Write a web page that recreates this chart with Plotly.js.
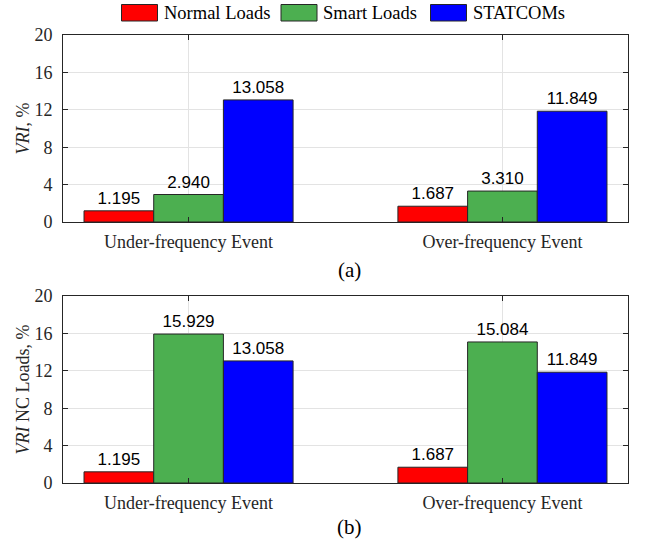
<!DOCTYPE html>
<html>
<head>
<meta charset="utf-8">
<script src="https://cdn.plot.ly/plotly-3.0.1.min.js"></script>
<style>
  html, body { margin: 0; padding: 0; background: #fff; }
  #chart { width: 646px; height: 546px; }
</style>
</head>
<body>
<div id="chart"></div>
<script>
// Event categories shared by both panels
const categories = ['Under-frequency Event', 'Over-frequency Event'];

// Series names and fill colours
const seriesNames = ['Normal Loads', 'Smart Loads', 'STATCOMs'];
const seriesColors = ['#FF0000', '#4CAF50', '#0000FF'];

// Panel (a): VRI, %
const vriNormal = [1.195, 1.687];
const vriSmart = [2.940, 3.310];
const vriStatcom = [13.058, 11.849];

// Panel (b): VRI of non-controllable loads, %
const vriNcNormal = [1.195, 1.687];
const vriNcSmart = [15.929, 15.084];
const vriNcStatcom = [13.058, 11.849];

// Shared y ticks
const yTicks = [0, 4, 8, 12, 16, 20];

const W = 646, H = 546;
const px = x => x / W;          // pixel -> paper x
const py = y => 1 - y / H;      // pixel -> paper y

const serif = 'Liberation Serif, Times New Roman, serif';
const sans = 'Liberation Sans, Arial, Helvetica, sans-serif';
const axisColor = '#262626';

function barTrace(values, i, xa, ya) {
  return {
    type: 'bar',
    name: seriesNames[i],
    x: categories,
    y: values,
    xaxis: xa,
    yaxis: ya,
    marker: { color: seriesColors[i], line: { color: axisColor, width: 1 } },
    text: values.map(v => v.toFixed(3)),
    textposition: 'outside',
    textfont: { family: sans, size: 17, color: '#000' },
    cliponaxis: false,
    showlegend: false,
    hoverinfo: 'x+y'
  };
}

const traces = [
  barTrace(vriNormal, 0, 'x', 'y'),
  barTrace(vriSmart, 1, 'x', 'y'),
  barTrace(vriStatcom, 2, 'x', 'y'),
  barTrace(vriNcNormal, 0, 'x2', 'y2'),
  barTrace(vriNcSmart, 1, 'x2', 'y2'),
  barTrace(vriNcStatcom, 2, 'x2', 'y2')
];

function xAxis(anchor) {
  return {
    domain: [px(63), px(628)],
    anchor: anchor,
    type: 'category',
    range: [-0.4, 1.4],
    showline: true, linecolor: axisColor, linewidth: 1, mirror: 'ticks',
    ticks: 'inside', ticklen: 5, tickcolor: axisColor,
    showgrid: true, gridcolor: '#E3E3E3', gridwidth: 1,
    tickfont: { family: serif, size: 18, color: axisColor },
    ticklabelstandoff: 3,
    zeroline: false,
    fixedrange: true
  };
}

function yAxis(domain, anchor, titleHtml) {
  return {
    domain: domain,
    anchor: anchor,
    range: [0, 20],
    tickvals: yTicks,
    showline: true, linecolor: axisColor, linewidth: 1, mirror: 'ticks',
    ticks: 'inside', ticklen: 5, tickcolor: axisColor,
    showgrid: true, gridcolor: '#E3E3E3', gridwidth: 1,
    tickfont: { family: serif, size: 18, color: axisColor },
    ticklabelstandoff: 6,
    zeroline: false,
    title: { text: titleHtml, font: { family: serif, size: 18, color: axisColor }, standoff: 0 },
    fixedrange: true
  };
}

// Legend row across the top, built from the series names and colours
const legendBoxes = [121.5, 281, 430.5];
const shapes = [];
const annotations = [];
seriesNames.forEach((name, i) => {
  const x0 = legendBoxes[i];
  shapes.push({
    type: 'rect', xref: 'paper', yref: 'paper',
    x0: px(x0), x1: px(x0 + 36), y0: py(21), y1: py(4.5),
    fillcolor: seriesColors[i], line: { color: axisColor, width: 1 }
  });
  annotations.push({
    xref: 'paper', yref: 'paper', x: px(x0 + 40), y: py(13),
    xanchor: 'left', yanchor: 'middle', showarrow: false,
    text: name, font: { family: serif, size: 18.5, color: '#000' }
  });
});

// Panel captions
annotations.push({
  xref: 'paper', yref: 'paper', x: px(349), y: py(270),
  xanchor: 'center', yanchor: 'middle', showarrow: false,
  text: '(a)', font: { family: serif, size: 21, color: '#000' }
});
annotations.push({
  xref: 'paper', yref: 'paper', x: px(349), y: py(527),
  xanchor: 'center', yanchor: 'middle', showarrow: false,
  text: '(b)', font: { family: serif, size: 21, color: '#000' }
});

const layout = {
  width: W, height: H,
  margin: { l: 0, r: 0, t: 0, b: 0 },
  paper_bgcolor: '#fff', plot_bgcolor: '#fff',
  barmode: 'group', bargap: 0.334, bargroupgap: 0,
  showlegend: false,
  xaxis: xAxis('y'),
  yaxis: yAxis([py(222), py(35)], 'x', '<i>VRI</i>, %'),
  xaxis2: xAxis('y2'),
  yaxis2: yAxis([py(483), py(296)], 'x2', '<i>VRI</i> NC Loads, %'),
  shapes: shapes,
  annotations: annotations
};

Plotly.newPlot('chart', traces, layout, { displayModeBar: false, staticPlot: true });
</script>
</body>
</html>
